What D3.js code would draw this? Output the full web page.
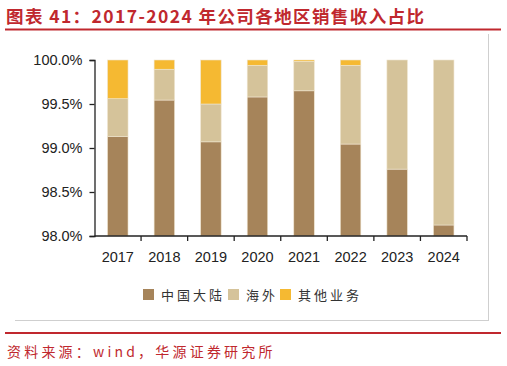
<!DOCTYPE html>
<html><head><meta charset="utf-8">
<script src="https://cdn.jsdelivr.net/npm/d3@7"></script>
<style>
body{margin:0;background:#fff;}
svg{display:block;}
</style></head>
<body><svg id="c" width="507" height="366"></svg>
<script>
const years = ["2017","2018","2019","2020","2021","2022","2023","2024"];
const mainland = [99.13, 99.545, 99.07, 99.58, 99.65, 99.045, 98.76, 98.125];
const overseas = [0.43, 0.35, 0.43, 0.36, 0.335, 0.895, 1.24, 1.875];
const other = [0.44, 0.105, 0.50, 0.06, 0.015, 0.06, 0.0, 0.0];
const seriesNames = ["中国大陆","海外","其他业务"];
const colors = ["#A6845A","#D5C39A","#F5B932"];
const yTicks = [98.0, 98.5, 99.0, 99.5, 100.0];

const svg = d3.select("#c");
const red = "#C0282E";
const cjk = "'Noto Sans CJK SC','Noto Sans',sans-serif";

// title
svg.append("text").attr("x",6).attr("y",23).attr("fill",red)
  .attr("font-family",cjk).attr("font-weight","bold").attr("font-size",17.5)
  .attr("letter-spacing",1.4)
  .text("图表 41：2017-2024 年公司各地区销售收入占比");
svg.append("line").attr("x1",5).attr("x2",501).attr("y1",29.5).attr("y2",29.5)
  .attr("stroke",red).attr("stroke-width",2);
// box lines
svg.append("line").attr("x1",488.5).attr("x2",488.5).attr("y1",34).attr("y2",321)
  .attr("stroke","#cfcfcf").attr("stroke-width",1);
svg.append("line").attr("x1",15).attr("x2",489).attr("y1",320.5).attr("y2",320.5)
  .attr("stroke","#cfcfcf").attr("stroke-width",1);
// footer
svg.append("line").attr("x1",5).attr("x2",501).attr("y1",333).attr("y2",333)
  .attr("stroke",red).attr("stroke-width",2);
svg.append("text").attr("x",7).attr("y",357).attr("fill",red)
  .attr("font-family",cjk).attr("font-size",14).attr("letter-spacing",3.2)
  .text("资料来源：wind，华源证券研究所");

const x = d3.scaleBand().domain(years).range([94.5,467]).paddingInner(0.56).paddingOuter(0.28);
const y = d3.scaleLinear().domain([98,100]).range([236,60]);

const data = years.map((yr,i)=>({year:yr, "中国大陆":mainland[i], "海外":overseas[i], "其他业务":other[i]}));
const stack = d3.stack().keys(seriesNames)(data);

const g = svg.append("g");
stack.forEach((s,si)=>{
  g.selectAll(null).data(s).enter().append("rect")
    .attr("x",d=>x(d.data.year))
    .attr("width",x.bandwidth())
    .attr("y",d=>y(Math.min(d[1],100)))
    .attr("height",d=>Math.max(0, y(Math.max(d[0],98)) - y(Math.min(d[1],100))))
    .attr("fill",colors[si])
    .attr("stroke","#efe5cf").attr("stroke-width",0.6)
    .attr("stroke-opacity", d=> (d[1]-d[0])>0 ? 1 : 0);
});

// y axis
const ya = svg.append("g").attr("transform","translate(94.5,0)")
  .call(d3.axisLeft(y).tickValues(yTicks).tickFormat(d=>d.toFixed(1)+"%").tickSize(5).tickPadding(7));
ya.selectAll("path,line").attr("stroke","#222").attr("stroke-width",1.3);
ya.selectAll("text").attr("font-family","'Liberation Sans',Arial,sans-serif").attr("font-size",14.5).attr("fill","#222");

// x axis with ticks at band boundaries
const xa = svg.append("g").attr("transform","translate(0,236)");
xa.append("line").attr("x1",94.5).attr("x2",467).attr("y1",0).attr("y2",0).attr("stroke","#222").attr("stroke-width",1.3);
const step = x.step();
const bounds = years.map((yr)=> x(yr) + x.bandwidth()/2 + step/2);
xa.selectAll(".tk").data(bounds).enter().append("line")
  .attr("x1",d=>d).attr("x2",d=>d).attr("y1",0).attr("y2",5).attr("stroke","#222").attr("stroke-width",1.3);
xa.selectAll(".lb").data(years).enter().append("text")
  .attr("x",d=>x(d)+x.bandwidth()/2).attr("y",26).attr("text-anchor","middle")
  .attr("font-family","'Liberation Sans',Arial,sans-serif").attr("font-size",14.5).attr("fill","#222")
  .text(d=>d);

// legend
const legX = [143, 228, 280];
const lg = svg.append("g");
seriesNames.forEach((n,i)=>{
  lg.append("rect").attr("x",legX[i]).attr("y",289).attr("width",11).attr("height",11).attr("fill",colors[i]);
  lg.append("text").attr("x",legX[i]+18).attr("y",300).attr("font-family",cjk).attr("font-size",13)
    .attr("letter-spacing",3).attr("fill","#333").text(n);
});
</script></body></html>
